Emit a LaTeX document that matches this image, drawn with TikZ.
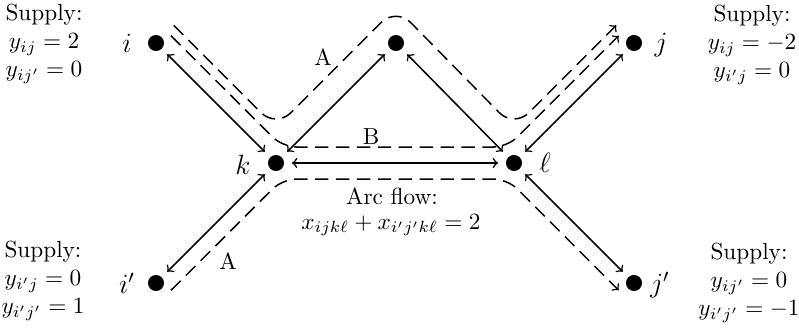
\documentclass[tikz,border=0pt]{standalone}
\usetikzlibrary{calc}
\begin{document}
\begin{tikzpicture}[x=0.43pt,y=-0.43pt,
  dot/.style={circle,fill=black,inner sep=0pt,minimum size=6.9pt},
  link/.style={<->,line width=0.65pt,shorten <=3.2pt,shorten >=3.2pt},
  flow/.style={->,line width=0.65pt,dash pattern=on 5.8pt off 3.2pt},
  supply/.style={align=center,inner sep=0pt},
  nlabel/.style={inner sep=0pt,font=\large}]
\useasboundingbox (0,0) rectangle (799,330);
% nodes
\node[dot] (i) at (156,43) {};
\node[dot] (m) at (396,43) {};
\node[dot] (j) at (634,43) {};
\node[dot] (k) at (276,163) {};
\node[dot] (l) at (514,163) {};
\node[dot] (ip) at (156,283) {};
\node[dot] (jp) at (634,283) {};
% node labels
\node[nlabel] (li) at (127,43) {$i$};
\node[nlabel] (lj) at (661,45) {$j$};
\node[nlabel] (lk) at (243,165) {$k$};
\node[nlabel] (ll) at (545,163) {$\ell$};
\node[nlabel] (lip) at (127,283) {$i'$};
\node[nlabel] (ljp) at (660,285) {$j'$};
% supply labels
\node[supply] (s1) at (44,44) {Supply:\\ $y_{ij}=2$\\ $y_{ij'}=0$};
\node[supply] (s2) at (752,45) {Supply:\\ $y_{ij}=-2$\\ $y_{i'j}=0$};
\node[supply] (s3) at (43,281) {Supply:\\ $y_{i'j}=0$\\ $y_{i'j'}=1$};
\node[supply] (s4) at (749,283) {Supply:\\ $y_{ij'}=0$\\ $y_{i'j'}=-1$};
% solid arcs
\draw[link] (i) -- (k);
\draw[link] (k) -- (m);
\draw[link] (m) -- (l);
\draw[link] (l) -- (j);
\draw[link] (k) -- (l);
\draw[link] (k) -- (ip);
\draw[link] (l) -- (jp);
% flows
\draw[flow,rounded corners=9pt] ($(i)+(17.7,-17.7)$) -- ($(k)+(0,-35.4)$) -- ($(m)+(0,-35.4)$) -- ($(l)+(0,-35.4)$) -- ($(j)+(-17.7,-17.7)$);
\draw[flow,rounded corners=6pt] ($(i)+(15,-7.3)$) -- ($(k)+(6.6,-16)$) -- ($(l)+(-6.6,-16)$) -- ($(j)+(-15.3,-7.3)$);
\draw[flow,rounded corners=6pt] ($(ip)+(15,7.3)$) -- ($(k)+(6.6,16)$) -- ($(l)+(-6.6,16)$) -- ($(jp)+(-15.3,7.3)$);
% labels
\node (la1) at (323,57) {A};
\node (lb) at (371,137) {B};
\node (la2) at (228,261) {A};
\node (af) at (392,196) {Arc flow:};
\node (eq) at (391,225) {$x_{ijk\ell}+x_{i'j'k\ell}=2$};
\end{tikzpicture}
\end{document}
